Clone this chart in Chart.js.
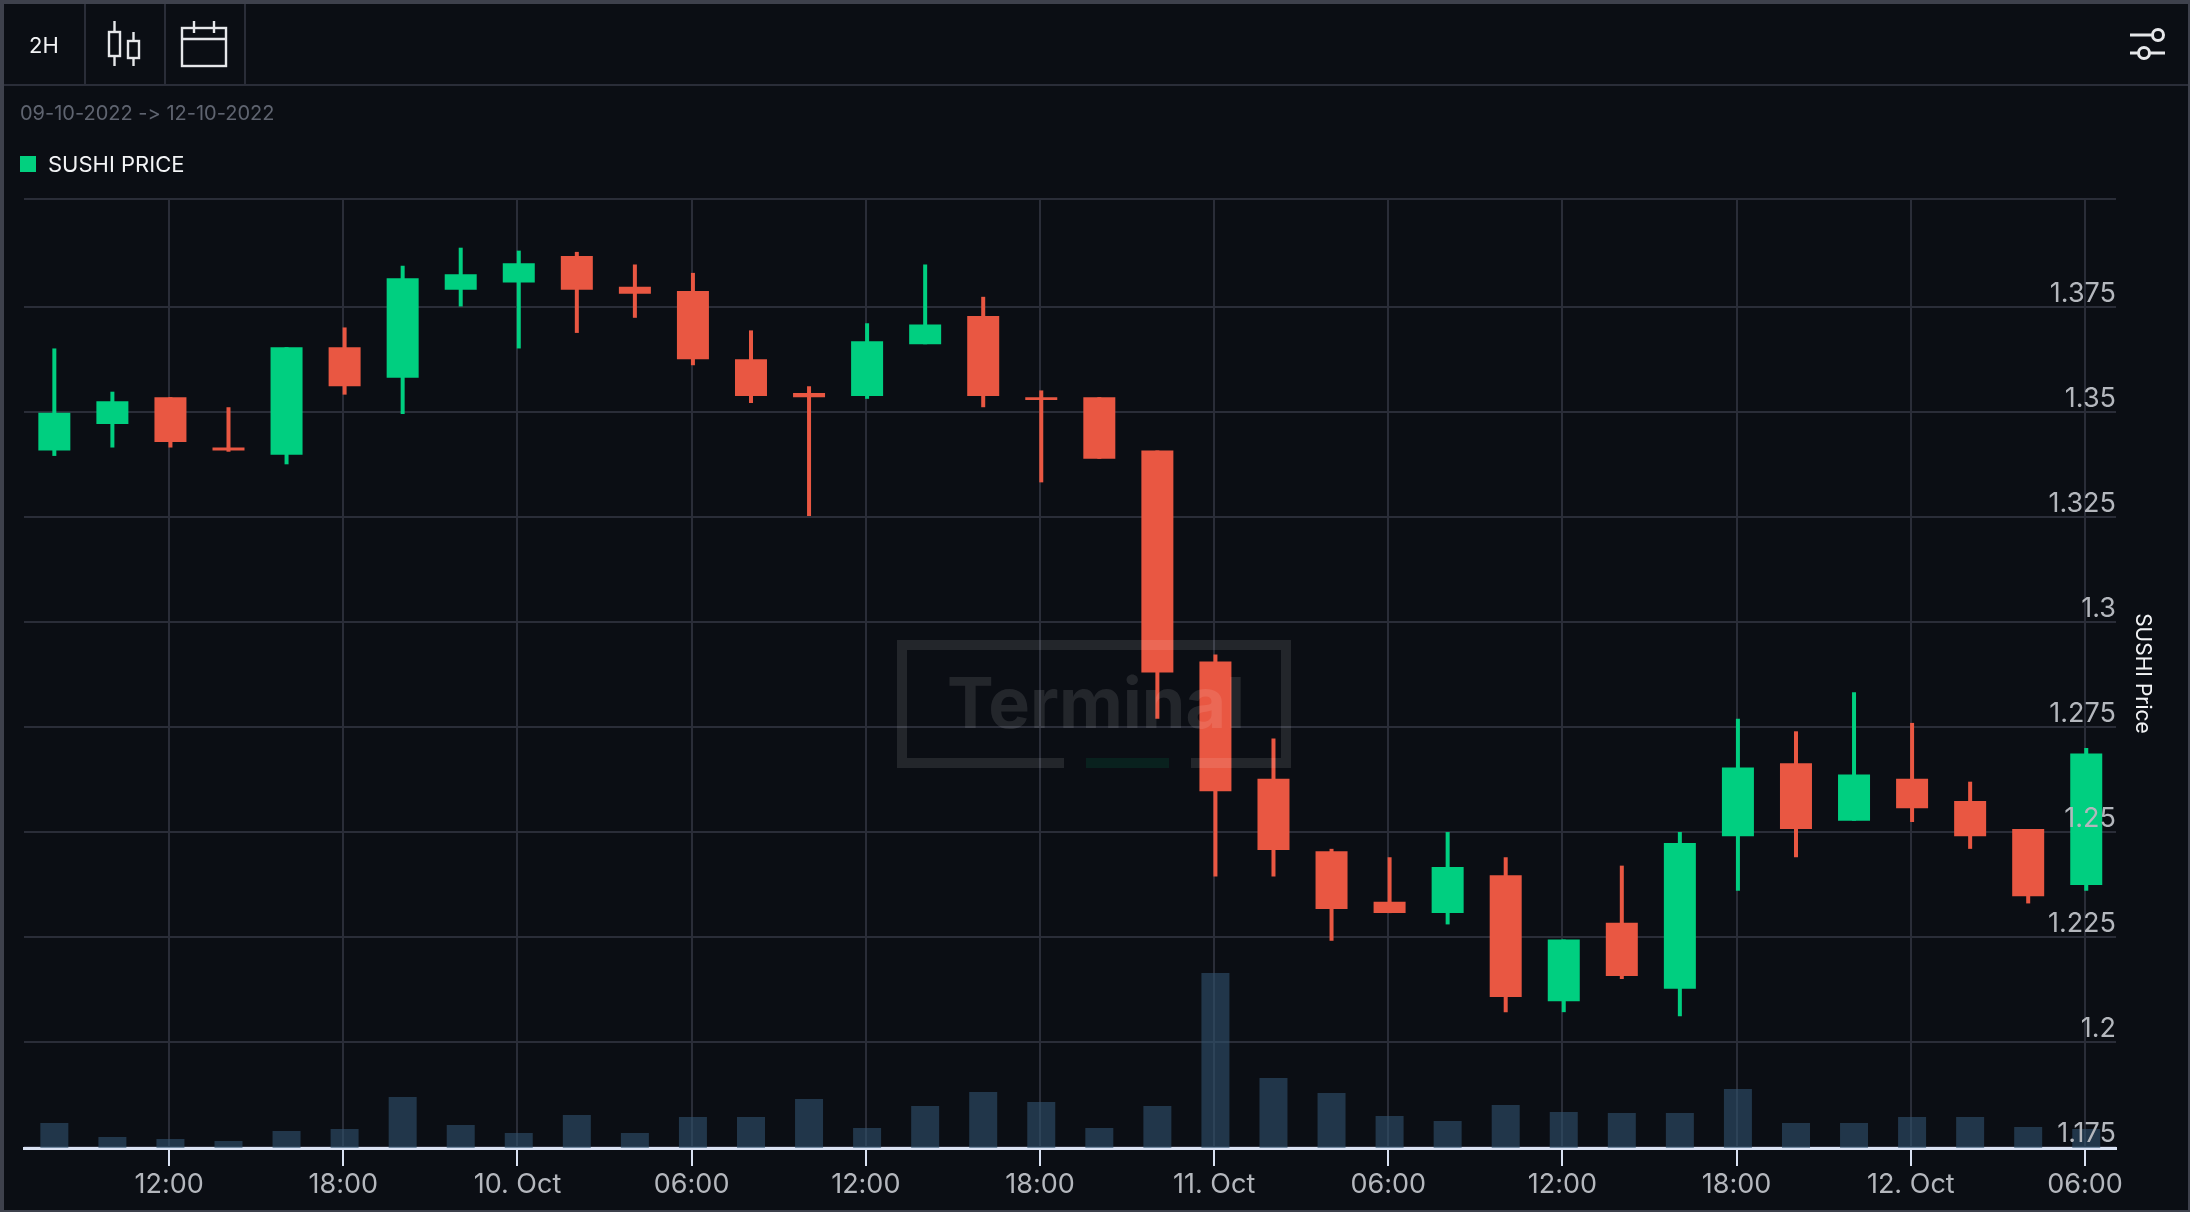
<!DOCTYPE html>
<html>
<head>
<meta charset="utf-8">
<title>SUSHI Price</title>
<script src="https://cdn.jsdelivr.net/npm/chart.js@4"></script>
<style>
  html, body { margin: 0; padding: 0; background: #0b0e14; }
  body { width: 2190px; height: 1212px; overflow: hidden; position: relative; font-family: Inter, sans-serif; font-feature-settings: 'calt' 0; }
  #chart { position: absolute; left: 0; top: 0; }
  .frame { position: absolute; left: 0; top: 0; width: 2184px; height: 1206px; border: solid #3e414c; border-width: 4px 2px 2px 4px; }
  .sep { position: absolute; background: #2a2d38; }
  .txt { position: absolute; white-space: nowrap; line-height: 1; }
  svg { position: absolute; left: 0; top: 0; pointer-events: none; }
</style>
</head>
<body>
<canvas id="chart" width="2190" height="1212"></canvas>

<div class="frame"></div>
<div class="sep" style="left:4px;top:84px;width:2184px;height:2px"></div>
<div class="sep" style="left:84px;top:4px;width:2px;height:80px"></div>
<div class="sep" style="left:164px;top:4px;width:2px;height:80px"></div>
<div class="sep" style="left:244px;top:4px;width:2px;height:80px"></div>

<div class="txt" style="left:29px;top:34px;font-size:22px;color:#f2f3f5">2H</div>
<div class="txt" style="left:20px;top:103px;font-size:20px;color:#5f6470">09-10-2022 -&gt; 12-10-2022</div>
<div style="position:absolute;left:20px;top:156px;width:16px;height:16px;background:#02d07f"></div>
<div class="txt" style="left:48px;top:153px;font-size:22px;color:#f2f3f5">SUSHI PRICE</div>

<svg width="2190" height="1212" fill="none" stroke="#e6e7ea" stroke-width="2.4">
  <rect x="109" y="32" width="11" height="24"/>
  <path d="M114.5 21V32M114.5 56V66"/>
  <rect x="128" y="41" width="11" height="17"/>
  <path d="M133.5 32V41M133.5 58V66"/>
  <rect x="182" y="28" width="44" height="38"/>
  <path d="M182 39H226M194 21V33M214 21V33"/>
  <g stroke-width="3">
    <path d="M2130 35H2152M2130 53H2138M2150 53H2165"/>
    <circle cx="2158" cy="35" r="5.5"/>
    <circle cx="2144" cy="53" r="5.5"/>
  </g>
</svg>

<svg width="2190" height="1212">
  <g fill="#ffffff" fill-opacity="0.1">
    <path d="M897 640H1291V768H1191V758H1281V650H907V758H1064V768H897Z"/>
    <text x="947" y="728" font-family="Inter" font-weight="700" font-size="70">Terminal</text>
  </g>
  <rect x="1086" y="758" width="83" height="10" fill="#00cf80" fill-opacity="0.1"/>
</svg>

<script>
const candleHours = [8, 10, 12, 14, 16, 18, 20, 22, 24, 26, 28, 30, 32, 34, 36, 38, 40, 42, 44, 46, 48, 50, 52, 54, 56, 58, 60, 62, 64, 66, 68, 70, 72, 74, 76, 78];
const openPrices = [1.3409, 1.3472, 1.3536, 1.3416, 1.3399, 1.3655, 1.3582, 1.3792, 1.3809, 1.3872, 1.3799, 1.3789, 1.3626, 1.3546, 1.3539, 1.3662, 1.3729, 1.3536, 1.3536, 1.3409, 1.2906, 1.2627, 1.2454, 1.2334, 1.2307, 1.2397, 1.2097, 1.2284, 1.2127, 1.2490, 1.2664, 1.2527, 1.2627, 1.2574, 1.2507, 1.2374];
const closePrices = [1.3499, 1.3526, 1.3429, 1.3409, 1.3655, 1.3562, 1.3819, 1.3829, 1.3855, 1.3792, 1.3782, 1.3626, 1.3539, 1.3536, 1.3669, 1.3709, 1.3539, 1.3529, 1.3389, 1.2880, 1.2597, 1.2457, 1.2317, 1.2307, 1.2417, 1.2107, 1.2244, 1.2157, 1.2474, 1.2654, 1.2507, 1.2637, 1.2557, 1.2490, 1.2347, 1.2687];
const highPrices = [1.3652, 1.3549, 1.3536, 1.3512, 1.3655, 1.3702, 1.3849, 1.3892, 1.3885, 1.3882, 1.3852, 1.3832, 1.3695, 1.3562, 1.3712, 1.3852, 1.3775, 1.3552, 1.3536, 1.3409, 1.2923, 1.2723, 1.2460, 1.2440, 1.2500, 1.2440, 1.2244, 1.2420, 1.2500, 1.2770, 1.2740, 1.2833, 1.2760, 1.2620, 1.2507, 1.2700];
const lowPrices = [1.3396, 1.3416, 1.3416, 1.3406, 1.3376, 1.3542, 1.3496, 1.3752, 1.3652, 1.3689, 1.3725, 1.3612, 1.3522, 1.3253, 1.3532, 1.3662, 1.3512, 1.3333, 1.3389, 1.2770, 1.2394, 1.2394, 1.2241, 1.2307, 1.2280, 1.2071, 1.2071, 1.2150, 1.2061, 1.2360, 1.2440, 1.2527, 1.2524, 1.2460, 1.2330, 1.2360];
const volumes = [25, 11, 9, 7, 17, 19, 51, 23, 15, 33, 15, 31, 31, 49, 20, 42, 56, 46, 20, 42, 175, 70, 55, 32, 27, 43, 36, 35, 35, 59, 25, 25, 31, 31, 21, 19];

const xTickHours = [12, 18, 24, 30, 36, 42, 48, 54, 60, 66, 72, 78];
const xTickLabels = ['12:00', '18:00', '10. Oct', '06:00', '12:00', '18:00', '11. Oct', '06:00', '12:00', '18:00', '12. Oct', '06:00'];
const yTickValues = [1.175, 1.2, 1.225, 1.25, 1.275, 1.3, 1.325, 1.35, 1.375];
const yTickLabels = ['1.175', '1.2', '1.225', '1.25', '1.275', '1.3', '1.325', '1.35', '1.375'];

const GREEN = '#00cf80';
const RED = '#e95742';
const candleColors = openPrices.map((o, i) => closePrices[i] >= o ? GREEN : RED);
// bars sit a hair to the right of the gridlines in the original
const barHours = candleHours.map(h => h + 0.045);

const yMin = 1.17474;
const yMax = 1.4008;

new Chart(document.getElementById('chart'), {
  type: 'bar',
  data: {
    datasets: [
      {
        label: 'Volume',
        data: barHours.map((h, i) => ({ x: h, y: volumes[i] })),
        yAxisID: 'yVol',
        backgroundColor: 'rgba(48, 81, 110, 0.6)',
        barThickness: 28,
        order: 3
      },
      {
        label: 'Wick',
        data: barHours.map((h, i) => ({ x: h, y: [lowPrices[i], highPrices[i]] })),
        yAxisID: 'y',
        backgroundColor: candleColors,
        barThickness: 4,
        order: 2
      },
      {
        label: 'SUSHI PRICE',
        data: barHours.map((h, i) => ({ x: h, y: [openPrices[i], closePrices[i]] })),
        yAxisID: 'y',
        backgroundColor: candleColors,
        barThickness: 32,
        order: 1
      }
    ]
  },
  options: {
    responsive: false,
    devicePixelRatio: 1,
    animation: false,
    grouped: false,
    inflateAmount: 0,
    borderSkipped: false,
    layout: { padding: { left: 24, top: 199, right: 0, bottom: 0 } },
    plugins: { legend: { display: false }, tooltip: { enabled: false } },
    scales: {
      x: {
        type: 'linear',
        offset: false,
        min: 7,
        max: 79.07,
        afterBuildTicks: axis => { axis.ticks = xTickHours.map(v => ({ value: v })); },
        afterFit: axis => { axis.height = 64; },
        grid: { offset: false, color: '#2a2d38', lineWidth: 2, tickLength: 18, tickColor: '#d9e1f2', tickWidth: 2 },
        border: { color: '#d9e1f2', width: 3 },
        ticks: {
          autoSkip: false,
          maxRotation: 0,
          padding: 3,
          color: '#b4b7bd',
          font: { family: 'Inter', size: 27 },
          callback: (v, i) => xTickLabels[i]
        }
      },
      y: {
        position: 'right',
        min: yMin,
        max: yMax,
        afterBuildTicks: axis => { axis.ticks = yTickValues.concat([yMax]).map(v => ({ value: v })); },
        afterFit: axis => { axis.width = 74; },
        grid: { color: '#2a2d38', lineWidth: 2, drawTicks: false },
        border: { display: false },
        ticks: {
          mirror: true,
          autoSkip: false,
          padding: 0,
          labelOffset: -13,
          z: 1,
          color: '#b4b7bd',
          font: { family: 'Inter', size: 27 },
          callback: (v, i) => yTickLabels[i] || ''
        },
        title: {
          display: true,
          text: 'SUSHI Price',
          color: '#f2f3f5',
          font: { family: 'Inter', size: 21 },
          padding: { top: 35, bottom: 0 }
        }
      },
      yVol: {
        display: false,
        min: 0,
        max: 949
      }
    }
  }
});
</script>
</body>
</html>
